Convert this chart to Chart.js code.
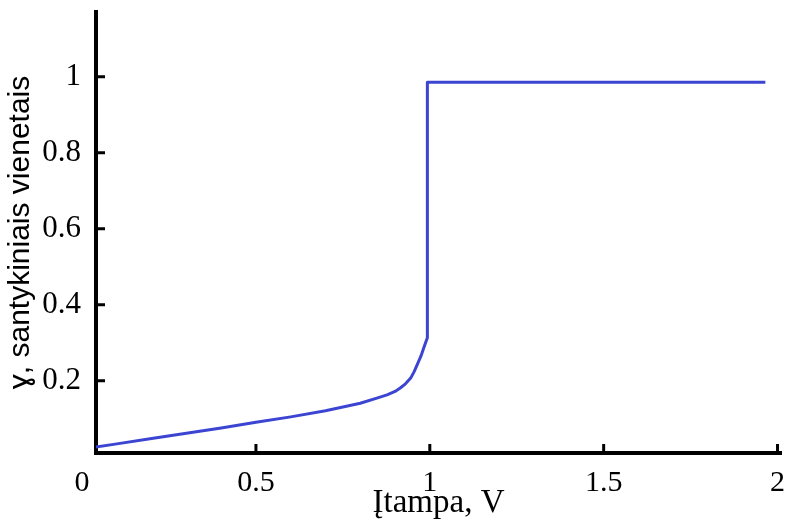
<!DOCTYPE html>
<html>
<head>
<meta charset="utf-8">
<script src="https://cdn.jsdelivr.net/npm/chart.js@4.4.0/dist/chart.umd.min.js"></script>
<style>
  body { margin: 0; background: #fff; }
  #wrap { width: 793px; height: 523px; }
</style>
</head>
<body>
<div id="wrap"><canvas id="curveChart"></canvas></div>
<script>
// Itampa (V) ir santykinis dydis
const voltage = [0, 0.1, 0.2, 0.3, 0.4, 0.5, 0.6, 0.7, 0.8, 0.85, 0.877, 0.9, 0.915, 0.93, 0.945, 0.955, 0.966, 0.975, 0.981, 0.987, 0.993, 0.993, 1.965];
const gammaVal = [0.02, 0.034, 0.048, 0.062, 0.076, 0.091, 0.105, 0.121, 0.141, 0.155, 0.163, 0.172, 0.181, 0.192, 0.207, 0.224, 0.247, 0.266, 0.282, 0.298, 0.313, 0.985, 0.985];
const xTicks = [0, 0.5, 1, 1.5, 2];
const yTicks = [0.2, 0.4, 0.6, 0.8, 1];

const points = voltage.map((v, i) => ({ x: v, y: gammaVal[i] }));

// ticks pointing inward, like the original plot
const innerTicks = {
    id: "innerTicks",
    afterDraw(chart) {
        const c = chart.ctx;
        const xs = chart.scales.x, ys = chart.scales.y;
        c.save();
        c.strokeStyle = "#000";
        c.lineWidth = 3;
        c.beginPath();
        xTicks.slice(1).forEach(t => {
            const px = Math.min(xs.getPixelForValue(t), xs.right - 2);
            c.moveTo(px, ys.bottom);
            c.lineTo(px, ys.bottom - 9);
        });
        yTicks.forEach(t => {
            const py = ys.getPixelForValue(t);
            c.moveTo(xs.left, py);
            c.lineTo(xs.left + 9, py);
        });
        c.stroke();
        c.restore();
    }
};

const ctx = document.getElementById("curveChart").getContext("2d");
const myChart = new Chart(ctx, {
    type: "scatter",
    data: {
        datasets: [
            { label: "ɣ", data: points, showLine: true, borderColor: "#3b45d2", borderWidth: 3, pointRadius: 0, tension: 0, borderJoinStyle: "round" }
        ]
    },
    options: {
        responsive: true,
        maintainAspectRatio: false,
        animation: false,
        layout: { padding: { left: 0, right: 12, top: 12, bottom: 0 } },
        plugins: { legend: { display: false }, tooltip: { enabled: false } },
        scales: {
            x: {
                type: "linear", min: 0.04, max: 2.01,
                afterBuildTicks: s => { s.ticks = xTicks.map(v => ({ value: v })); },
                afterFit: s => { s.height = 70; s.paddingLeft = 0; s.paddingRight = 0; },
                grid: { display: false, drawTicks: false },
                border: { display: true, color: "#000", width: 4 },
                ticks: { color: "#000", padding: 12, maxRotation: 0, autoSkip: false, font: { family: "Liberation Serif", size: 30 }, callback: v => String(v) },
                title: { display: true, text: "Įtampa, V", color: "#000", padding: { top: -8, bottom: 0 }, font: { family: "Liberation Serif", size: 33 } }
            },
            y: {
                type: "linear", min: 0.01, max: 1.17,
                afterBuildTicks: s => { s.ticks = yTicks.map(v => ({ value: v })); },
                afterFit: s => { s.width = 96; s.paddingTop = 0; s.paddingBottom = 0; },
                grid: { display: false, drawTicks: false },
                border: { display: true, color: "#000", width: 4 },
                ticks: { color: "#000", padding: 15, autoSkip: false, font: { family: "Liberation Serif", size: 31 }, callback: v => String(v) },
                title: { display: true, text: "ɣ, santykiniais vienetais", color: "#000", padding: { top: 3, bottom: 0 }, font: { family: "Liberation Sans", size: 30 } }
            }
        }
    },
    plugins: [innerTicks]
});
</script>
</body>
</html>
